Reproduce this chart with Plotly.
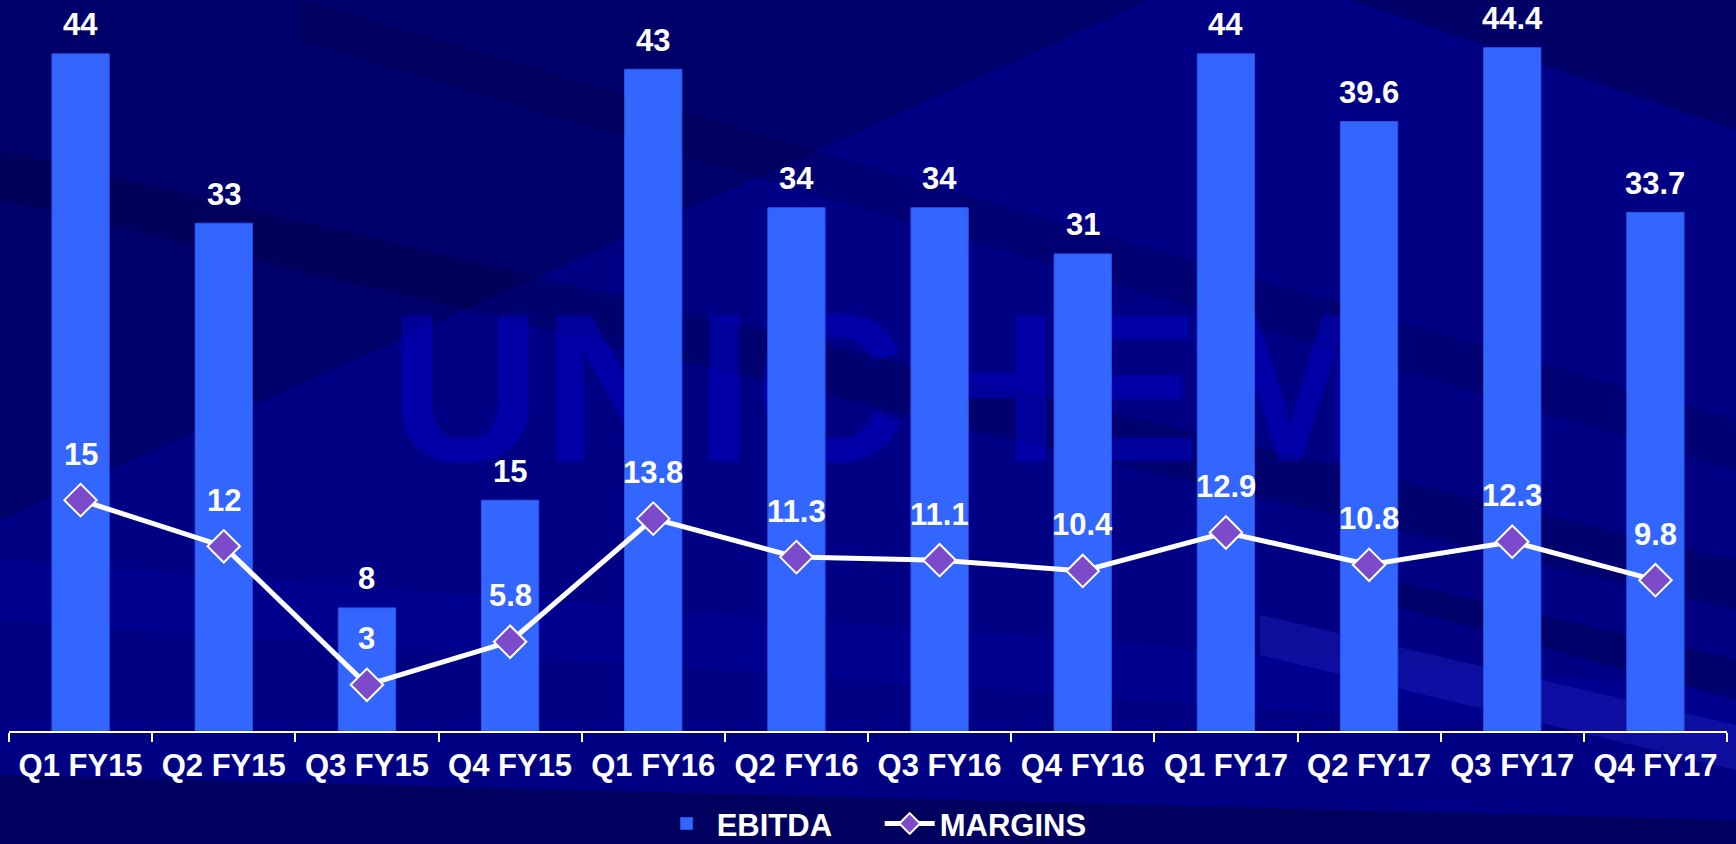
import plotly.graph_objects as go

categories = ["Q1 FY15", "Q2 FY15", "Q3 FY15", "Q4 FY15", "Q1 FY16", "Q2 FY16",
              "Q3 FY16", "Q4 FY16", "Q1 FY17", "Q2 FY17", "Q3 FY17", "Q4 FY17"]
ebitda = [44, 33, 8, 15, 43, 34, 34, 31, 44, 39.6, 44.4, 33.7]
margins = [15, 12, 3, 5.8, 13.8, 11.3, 11.1, 10.4, 12.9, 10.8, 12.3, 9.8]
ebitda_labels = ["44", "33", "8", "15", "43", "34", "34", "31", "44", "39.6", "44.4", "33.7"]
margin_labels = ["15", "12", "3", "5.8", "13.8", "11.3", "11.1", "10.4", "12.9", "10.8", "12.3", "9.8"]

FONT = "Liberation Sans, Arial, sans-serif"
BAR_COLOR = "#3366FF"
MARK_COLOR = "#7B4BCB"
W, H = 1736, 844
ML, MR, MT, MB = 9, 9, 0, 113


def px(X, Y):
    """decorative background helper: figure pixels -> paper coords"""
    return ((X - ML) / (W - ML - MR), (H - MB - Y) / (H - MB - MT))


def poly(points, color):
    pts = [px(x, y) for x, y in points]
    path = "M " + " L ".join("%.4f,%.4f" % p for p in pts) + " Z"
    return dict(type="path", xref="paper", yref="paper", path=path,
                layer="below", line=dict(width=0), fillcolor=color)


fig = go.Figure()
fig.add_trace(go.Bar(
    x=categories, y=ebitda, name="EBITDA",
    marker=dict(color=BAR_COLOR, line=dict(color="#2A55E8", width=1)),
))
fig.add_trace(go.Scatter(
    x=categories, y=margins, name="MARGINS", mode="lines+markers",
    line=dict(color="white", width=5),
    marker=dict(symbol="diamond", size=25, color=MARK_COLOR,
                line=dict(color="white", width=2)),
))

lab_font = dict(family=FONT, size=31, color="white", weight="bold")
annotations = []
for c, v, t in zip(categories, ebitda, ebitda_labels):
    annotations.append(dict(x=c, y=v, text=t, showarrow=False,
                            yanchor="middle", yshift=29, font=lab_font))
for c, v, t in zip(categories, margins, margin_labels):
    annotations.append(dict(x=c, y=v, text=t, showarrow=False,
                            yanchor="middle", yshift=46, font=lab_font))

shapes = [
    # background streaks
    poly([(0, 0), (1150, 0), (0, 520)], "rgba(0,0,50,0.30)"),
    poly([(0, 150), (1736, 560), (1736, 610), (0, 200)], "rgba(0,0,60,0.30)"),
    poly([(300, 0), (1736, 420), (1736, 470), (300, 40)], "rgba(0,0,60,0.25)"),
    poly([(1350, 0), (1736, 0), (1736, 130)], "rgba(0,0,60,0.40)"),
    poly([(0, 560), (1736, 690), (1736, 740), (0, 620)], "rgba(0,0,170,0.30)"),
    poly([(1260, 615), (1736, 725), (1736, 770), (1260, 655)], "rgba(40,40,200,0.35)"),
    poly([(1390, 580), (1736, 660), (1736, 700), (1390, 605)], "rgba(0,0,60,0.35)"),
    poly([(0, 775), (1736, 820), (1736, 844), (0, 844)], "rgba(0,0,50,0.45)"),
    # watermark
    dict(type="rect", xref="paper", yref="paper", x0=0.018, x1=1.0, y0=0.397, y1=0.597,
         layer="below", line=dict(width=0), fillcolor="rgba(0,0,0,0)",
         label=dict(text="UNICHEM", textposition="middle center",
                    font=dict(family=FONT, size=212, color="rgba(0,0,200,0.5)",
                              weight="bold"))),
]

fig.update_layout(
    width=W, height=H,
    margin=dict(l=ML, r=MR, t=MT, b=MB, autoexpand=False),
    paper_bgcolor="#000084", plot_bgcolor="rgba(0,0,0,0)",
    bargap=0.6,
    showlegend=True,
    legend=dict(orientation="h", x=0.377, xanchor="left", y=-0.127, yanchor="middle",
                font=dict(family=FONT, size=31, color="white", weight="bold"),
                bgcolor="rgba(0,0,0,0)", itemwidth=50, entrywidth=158,
                entrywidthmode="pixels"),
    xaxis=dict(type="category", range=[-0.5, 11.5], showline=True,
               linecolor="white", linewidth=2,
               ticks="outside", tickson="boundaries", ticklen=9, tickcolor="white",
               tickwidth=2, showgrid=False, ticklabelstandoff=6,
               tickfont=dict(family=FONT, size=31, color="white", weight="bold")),
    yaxis=dict(range=[0, 47.5], visible=False, showgrid=False, zeroline=False),
    annotations=annotations,
    shapes=shapes,
    font=dict(family=FONT, color="white"),
)

fig.write_html("out.html", config={"displayModeBar": False},
               post_script="document.body.style.margin='0';"
                           "document.body.style.overflow='hidden';")
